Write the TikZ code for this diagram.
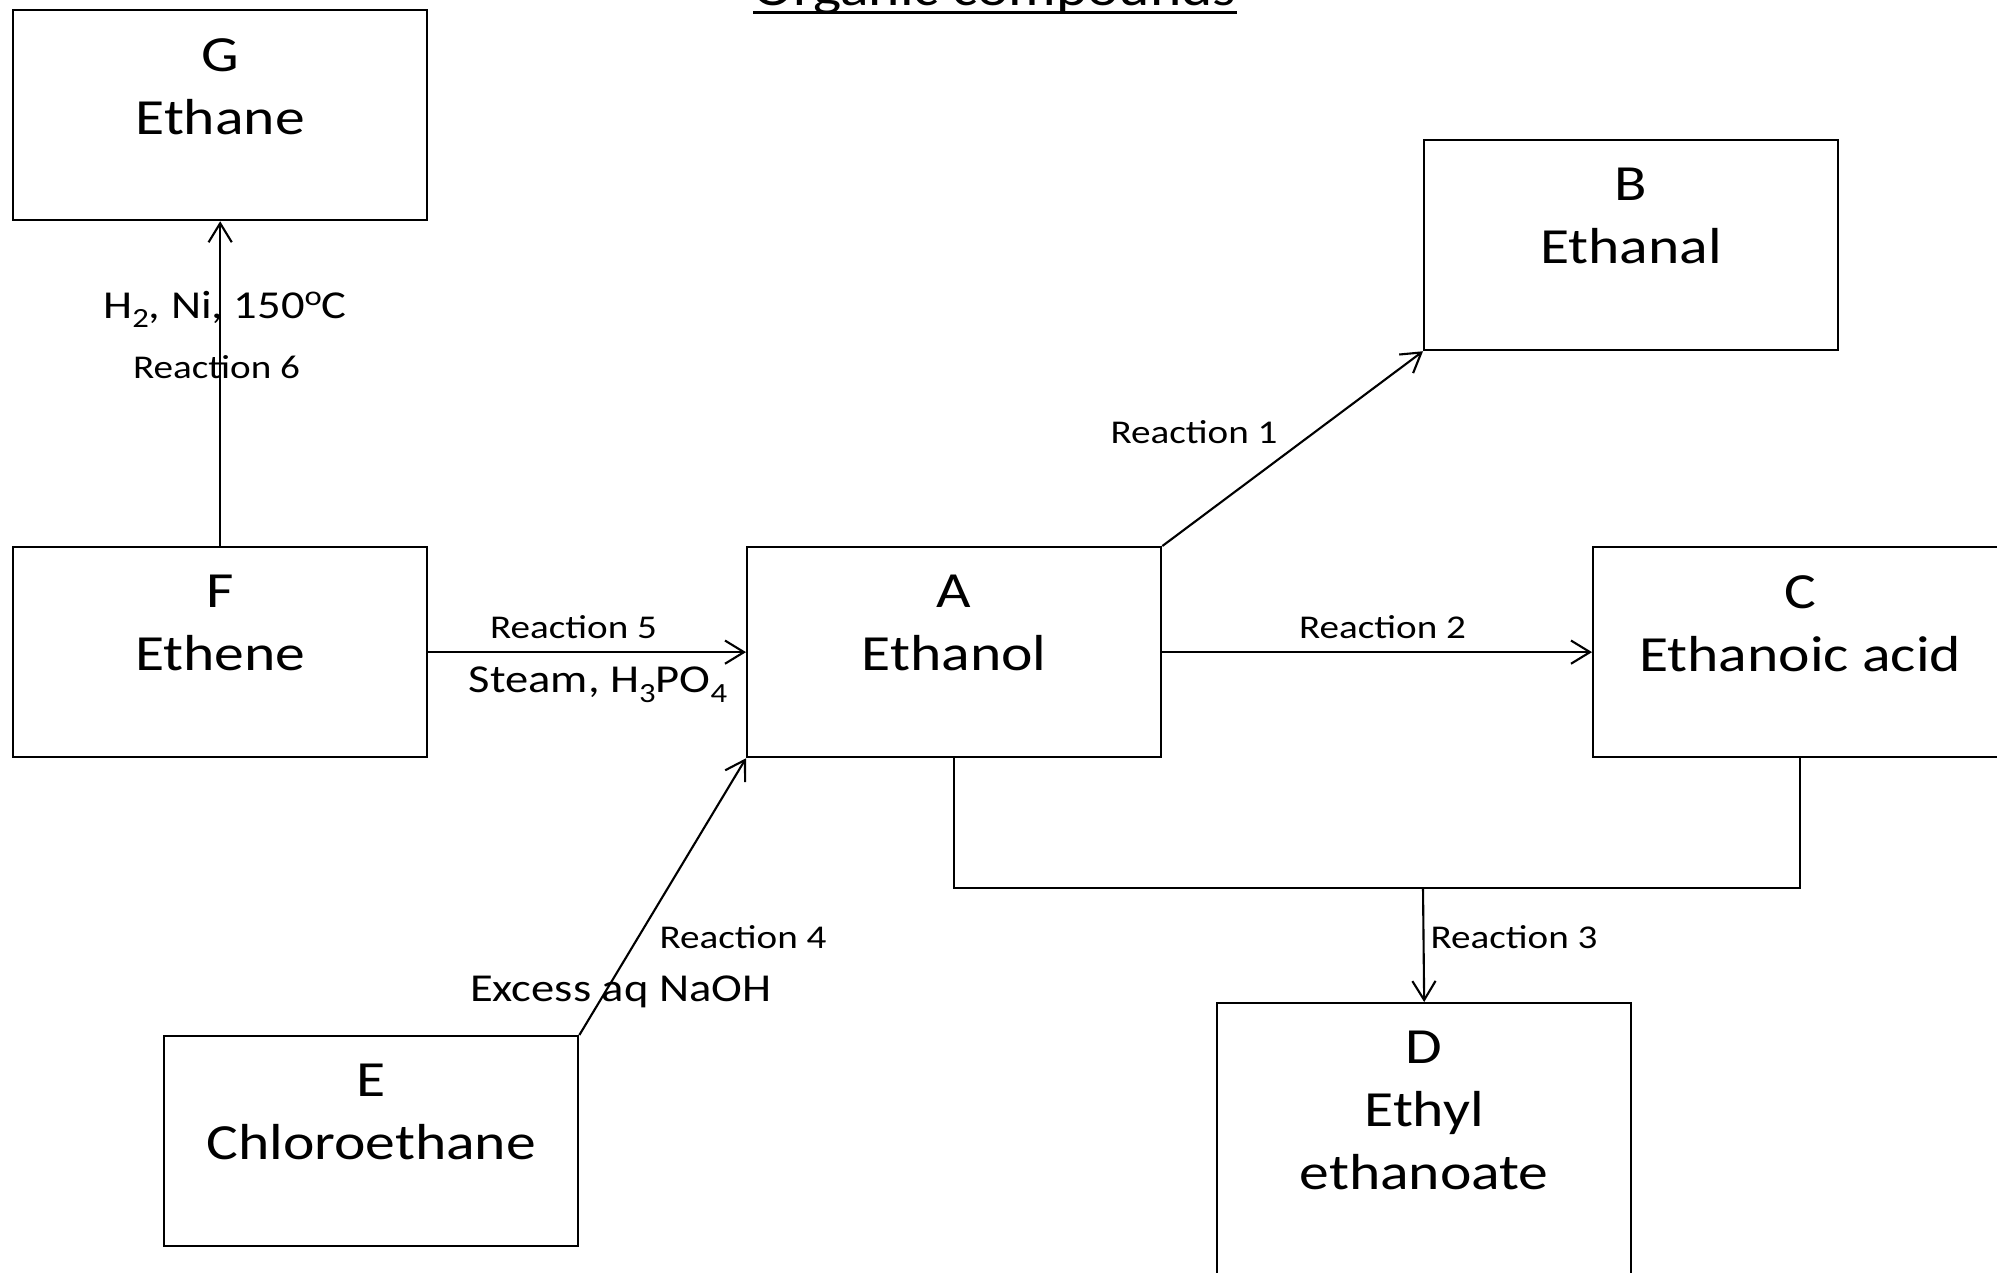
\documentclass[tikz,border=0pt]{standalone}
\usepackage{fontspec}
\setmainfont{Carlito}[FakeStretch=1.177]
\usetikzlibrary{arrows.meta}
\newcommand\chemsub[1]{\raisebox{-0.25em}{\fontsize{7.9}{8}\selectfont #1}}
\newcommand\degsup[1]{\raisebox{0.32em}{\fontsize{7.9}{8}\selectfont #1}}
\tikzset{
  box/.style={draw, line width=0.6pt, minimum width=4.14cm, minimum height=2.10cm, inner sep=0pt, anchor=north west},
  boxtext/.style={anchor=north, align=center, inner sep=0pt, font=\fontsize{14.4}{17.9}\selectfont},
  rlabel/.style={anchor=base, inner sep=0pt, font=\fontsize{9.45}{11}\selectfont},
  clabel/.style={anchor=base, inner sep=0pt, font=\fontsize{11.25}{13}\selectfont},
  conn/.style={line width=0.6pt},
  arr/.style={conn, -{Straight Barb[length=5.4pt,width=6.6pt]}},
}
\begin{document}
\begin{tikzpicture}[x=0.01cm, y=-0.01cm]
\useasboundingbox (0,0) rectangle (1997,1272);
\clip (0,0) rectangle (1997,1272);
% title
\node[anchor=base, inner sep=0pt, font=\fontsize{14.4}{17}\selectfont] (title) at (995,5.5) {Organic compounds};
\draw[line width=0.95pt] ([yshift=-0.07cm]title.base west) -- ([yshift=-0.07cm]title.base east);
% boxes
\node[box] (G) at (12,9) {};
\node[box] (F) at (12,546) {};
\node[box] (A) at (746,546) {};
\node[box] (B) at (1423,139) {};
\node[box] (C) at (1592,546) {};
\node[box] (E) at (163,1035) {};
\node[box, minimum height=3.0cm] (D) at (1216,1002) {};
% box texts
\node[boxtext] (Gt) at ([yshift=-0.285cm]G.north) {G\\Ethane};
\node[boxtext] (Ft) at ([yshift=-0.285cm]F.north) {F\\Ethene};
\node[boxtext] (At) at ([yshift=-0.285cm]A.north) {A\\Ethanol};
\node[boxtext] (Bt) at ([yshift=-0.285cm]B.north) {B\\Ethanal};
\node[boxtext] (Ct) at ([yshift=-0.285cm]C.north) {C\\Ethanoic acid};
\node[boxtext] (Et) at ([yshift=-0.285cm]E.north) {E\\Chloroethane};
\node[boxtext] (Dt) at ([yshift=-0.285cm]D.north) {D\\Ethyl\\ethanoate};
% connectors
\coordinate (J) at (1423,888);
\draw[arr] (F.north) -- (G.south);
\draw[arr] (F.east) -- (A.west);
\draw[arr] (A.north east) -- (B.south west);
\draw[arr] (A.east) -- (C.west);
\draw[arr] (E.north east) -- (A.south west);
\draw[conn] (A.south) |- (J) -| (C.south);
\draw[arr] (J) -- (D.north);
% labels
\node[clabel] (l6c) at (225,318) {H\chemsub{2}, Ni, 150\degsup{o}C};
\node[rlabel] (l6r) at (216.5,378) {Reaction 6};
\node[rlabel] (l5r) at (573.5,638) {Reaction 5};
\node[clabel] (l5c) at (598,692.7) {Steam, H\chemsub{3}PO\chemsub{4}};
\node[rlabel] (l1) at (1194,443) {Reaction 1};
\node[rlabel] (l2) at (1382.5,638) {Reaction 2};
\node[rlabel] (l4r) at (743,948) {Reaction 4};
\node[clabel] (l4c) at (620.7,1001.7) {Excess aq NaOH};
\node[rlabel] (l3) at (1514,948) {Reaction 3};
\end{tikzpicture}
\end{document}
